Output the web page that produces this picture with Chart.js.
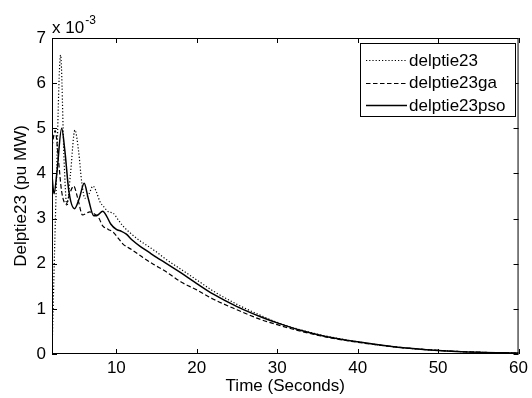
<!DOCTYPE html>
<html>
<head>
<meta charset="utf-8">
<script src="https://cdn.jsdelivr.net/npm/chart.js@4.4.1/dist/chart.umd.min.js"></script>
<style>
  html, body { margin: 0; padding: 0; background: #fff; }
  canvas { display: block; }
</style>
</head>
<body>
<canvas id="chart" width="532" height="398"></canvas>
<script>
// --- DATA (values in units of 1e-3 pu MW) ---
const tDelp = [2.0, 2.5, 3.07, 3.5, 3.85, 4.3, 4.85, 5.3, 5.7, 6.1, 6.6, 7.1, 7.5, 7.95, 8.5, 9.0, 9.6, 10.2, 10.8, 12, 13, 14, 15, 16, 18, 20, 22, 25, 28, 30, 33, 36, 40, 45, 50, 55, 60];
const vDelp = [0.0, 3.5, 6.62, 4.3, 3.28, 4.0, 4.96, 4.5, 3.8, 3.45, 3.55, 3.72, 3.6, 3.38, 3.25, 3.15, 3.12, 2.98, 2.84, 2.64, 2.5, 2.38, 2.26, 2.12, 1.88, 1.64, 1.4, 1.1, 0.85, 0.7, 0.53, 0.4, 0.27, 0.15, 0.08, 0.04, 0.02];

const tGa = [2.0, 2.4, 2.8, 3.2, 3.75, 4.2, 4.7, 5.2, 5.8, 6.3, 6.7, 7.3, 7.8, 8.3, 9.0, 9.6, 10.3, 10.8, 12, 13.3, 14.5, 16.2, 18, 20, 22, 25, 28, 30, 33, 36, 40, 45, 50, 55, 60];
const vGa = [4.6, 4.95, 4.3, 3.6, 3.32, 3.55, 3.72, 3.45, 3.08, 3.12, 3.15, 3.1, 3.02, 2.84, 2.76, 2.7, 2.55, 2.44, 2.3, 2.14, 2.0, 1.82, 1.6, 1.42, 1.22, 0.98, 0.76, 0.65, 0.5, 0.38, 0.26, 0.15, 0.08, 0.04, 0.02];

const tPso = [2.0, 2.25, 2.6, 3.2, 3.6, 4.1, 4.8, 5.4, 6.0, 6.5, 7.2, 7.7, 8.3, 8.8, 9.3, 10.0, 10.6, 11.2, 12.0, 13, 14, 15, 16, 18, 20, 22, 25, 28, 30, 33, 36, 40, 45, 50, 55, 60];
const vPso = [3.95, 3.55, 4.0, 5.0, 4.5, 3.6, 3.22, 3.45, 3.78, 3.45, 3.06, 3.08, 3.16, 3.05, 2.88, 2.76, 2.72, 2.66, 2.52, 2.38, 2.26, 2.14, 2.03, 1.8, 1.56, 1.33, 1.05, 0.82, 0.69, 0.52, 0.39, 0.27, 0.15, 0.08, 0.04, 0.02];

const seriesNames = ['delptie23', 'delptie23ga', 'delptie23pso'];
const xTicks = [10, 20, 30, 40, 50, 60];
const yTicks = [0, 1, 2, 3, 4, 5, 6, 7];

const FONT = 'Arial, "Liberation Sans", sans-serif';
const pts = (ts, vs) => ts.map((t, i) => ({ x: t, y: vs[i] }));

// frame, inward ticks, exponent, legend
const matlabAxes = {
    id: 'matlabAxes',
    afterDraw(chart) {
        const { ctx, chartArea: a, scales: { x, y } } = chart;
        ctx.save();
        ctx.strokeStyle = '#000';
        ctx.lineWidth = 1;
        ctx.setLineDash([]);
        ctx.strokeRect(a.left + 0.5, a.top + 0.5, a.right - a.left - 1, a.bottom - a.top - 1);
        ctx.beginPath();
        xTicks.forEach(v => {
            const px = Math.round(x.getPixelForValue(v)) + 0.5;
            ctx.moveTo(px, a.bottom); ctx.lineTo(px, a.bottom - 5);
            ctx.moveTo(px, a.top); ctx.lineTo(px, a.top + 5);
        });
        yTicks.forEach(v => {
            const py = Math.round(y.getPixelForValue(v)) + 0.5;
            ctx.moveTo(a.left, py); ctx.lineTo(a.left + 5, py);
            ctx.moveTo(a.right, py); ctx.lineTo(a.right - 5, py);
        });
        ctx.stroke();

        // exponent label
        ctx.fillStyle = '#000';
        ctx.textBaseline = 'alphabetic';
        ctx.textAlign = 'left';
        ctx.font = '17px ' + FONT;
        ctx.fillText('x 10', a.left, 33);
        const w = ctx.measureText('x 10').width;
        ctx.font = '12px ' + FONT;
        ctx.fillText('-3', a.left + w + 1, 24);

        // legend
        const L = { x: 360.5, y: 43.5, w: 155, h: 73 };
        ctx.fillStyle = '#fff';
        ctx.fillRect(L.x, L.y, L.w, L.h);
        ctx.strokeRect(L.x, L.y, L.w, L.h);
        ctx.font = '17px ' + FONT;
        ctx.textBaseline = 'middle';
        chart.data.datasets.forEach((ds, i) => {
            const cy = 60 + i * 22.5;
            ctx.beginPath();
            ctx.lineWidth = ds.borderWidth;
            ctx.setLineDash(ds.borderDash || []);
            ctx.moveTo(366, Math.round(cy) + 0.5);
            ctx.lineTo(407, Math.round(cy) + 0.5);
            ctx.stroke();
            ctx.setLineDash([]);
            ctx.fillStyle = '#000';
            ctx.fillText(ds.label, 409, cy + 1);
        });
        ctx.restore();
    }
};

new Chart(document.getElementById('chart'), {
    type: 'line',
    data: {
        datasets: [
            { label: seriesNames[0], data: pts(tDelp, vDelp), borderColor: '#000', borderWidth: 1.2, borderDash: [1.2, 2] },
            { label: seriesNames[1], data: pts(tGa, vGa), borderColor: '#000', borderWidth: 1.2, borderDash: [4.5, 2.5] },
            { label: seriesNames[2], data: pts(tPso, vPso), borderColor: '#000', borderWidth: 1.5, borderDash: [] }
        ]
    },
    options: {
        responsive: false,
        animation: false,
        parsing: true,
        elements: {
            point: { radius: 0 },
            line: { cubicInterpolationMode: 'monotone', fill: false }
        },
        layout: { padding: { left: 0, top: 38, right: 11, bottom: 0 } },
        plugins: { legend: { display: false }, tooltip: { enabled: false } },
        scales: {
            x: {
                type: 'linear',
                min: 2, max: 60,
                afterFit: (s) => { s.height = 44; },
                afterBuildTicks: (s) => { s.ticks = xTicks.map(v => ({ value: v })); },
                grid: { display: false, drawTicks: false },
                border: { display: false },
                ticks: { color: '#000', padding: 4, maxRotation: 0, font: { family: FONT, size: 17 } },
                title: { display: true, text: 'Time (Seconds)', color: '#000', padding: { top: 0, bottom: 1 }, font: { family: FONT, size: 17 } }
            },
            y: {
                min: 0, max: 7,
                afterFit: (s) => { s.width = 52; },
                afterBuildTicks: (s) => { s.ticks = yTicks.map(v => ({ value: v })); },
                grid: { display: false, drawTicks: false },
                border: { display: false },
                ticks: { color: '#000', padding: 6, font: { family: FONT, size: 17 } },
                title: { display: true, text: 'Delptie23 (pu MW)', color: '#000', padding: { top: 11, bottom: 0 }, font: { family: FONT, size: 17 } }
            }
        }
    },
    plugins: [matlabAxes]
});
</script>
</body>
</html>
